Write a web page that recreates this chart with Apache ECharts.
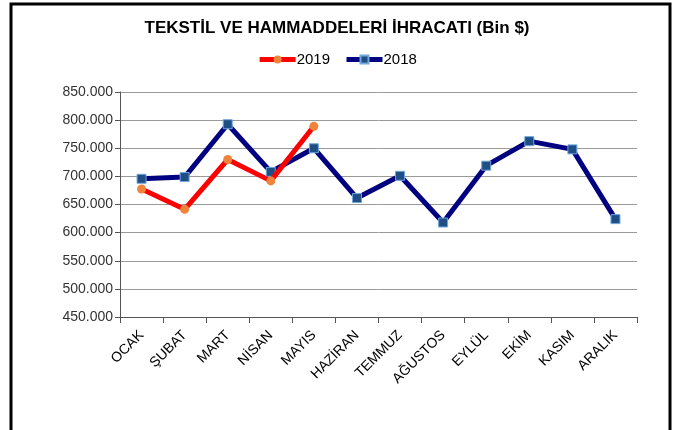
<!DOCTYPE html>
<html>
<head>
<meta charset="utf-8">
<script src="https://cdn.jsdelivr.net/npm/echarts@6/dist/echarts.min.js"></script>
<style>
  html, body { margin: 0; padding: 0; background: #fff; }
  #chart { width: 674px; height: 430px; }
</style>
</head>
<body>
<div id="chart"></div>
<script>
// months (x axis)
const months = ['OCAK', 'ŞUBAT', 'MART', 'NİSAN', 'MAYIS', 'HAZİRAN', 'TEMMUZ', 'AĞUSTOS', 'EYLÜL', 'EKİM', 'KASIM', 'ARALIK'];
// export values, thousand $
const exports2019 = [677500, 641500, 730000, 692000, 789000];
const exports2018 = [695700, 698800, 792700, 708000, 750000, 661500, 701000, 618000, 719000, 762600, 748000, 624000];

// 850000 -> "850.000"
const fmt = v => String(Math.round(v)).replace(/\B(?=(\d{3})+(?!\d))/g, '.');

const chart = echarts.init(document.getElementById('chart'));

chart.setOption({
    animation: false,
    backgroundColor: '#fff',
    title: {
        text: 'TEKSTİL VE HAMMADDELERİ İHRACATI (Bin $)',
        left: 'center',
        top: 15,
        textStyle: {
            fontFamily: 'Liberation Sans',
            fontWeight: 'bold',
            fontSize: 17,
            color: '#000'
        }
    },
    legend: {
        top: 47,
        left: 'center',
        itemWidth: 36,
        itemHeight: 10,
        itemGap: 14,
        lineStyle: { width: 5 },
        textStyle: { fontFamily: 'Liberation Sans', fontSize: 15, color: '#000', padding: [0, 0, 0, -4] },
        data: ['2019', '2018']
    },
    grid: {
        left: 120,
        right: 37,
        top: 92,
        bottom: 113
    },
    xAxis: {
        type: 'category',
        data: months,
        boundaryGap: true,
        axisLine: { lineStyle: { color: '#555', width: 1 } },
        axisTick: { show: true, length: 6, lineStyle: { color: '#555' } },
        axisLabel: {
            rotate: 45,
            interval: 0,
            margin: 16,
            fontFamily: 'Liberation Sans',
            fontSize: 14,
            color: '#000'
        },
        splitLine: { show: false }
    },
    yAxis: {
        type: 'value',
        min: 450000,
        max: 850000,
        interval: 50000,
        axisLine: { show: true, lineStyle: { color: '#555', width: 1 } },
        axisTick: { show: true, length: 5, lineStyle: { color: '#555' } },
        axisLabel: {
            formatter: fmt,
            fontFamily: 'Liberation Sans',
            fontSize: 14,
            color: '#333',
            margin: 7
        },
        splitLine: { lineStyle: { color: '#9a9a9a', width: 1 } }
    },
    series: [
        {
            name: '2019',
            type: 'line',
            data: exports2019,
            symbol: 'circle',
            symbolSize: 9,
            lineStyle: { color: '#ff0000', width: 5 },
            itemStyle: { color: '#f0843c', borderColor: '#f0843c', borderWidth: 0 },
            z: 3
        },
        {
            name: '2018',
            type: 'line',
            data: exports2018,
            symbol: 'rect',
            symbolSize: 9,
            lineStyle: { color: '#000080', width: 5 },
            itemStyle: { color: '#1f4e85', borderColor: '#6fa8dc', borderWidth: 1 },
            z: 2
        }
    ],
    graphic: [
        {
            type: 'rect',
            shape: { x: 11, y: 4, width: 659, height: 440 },
            style: { fill: null, stroke: '#000', lineWidth: 3 },
            silent: true
        }
    ]
});
</script>
</body>
</html>
